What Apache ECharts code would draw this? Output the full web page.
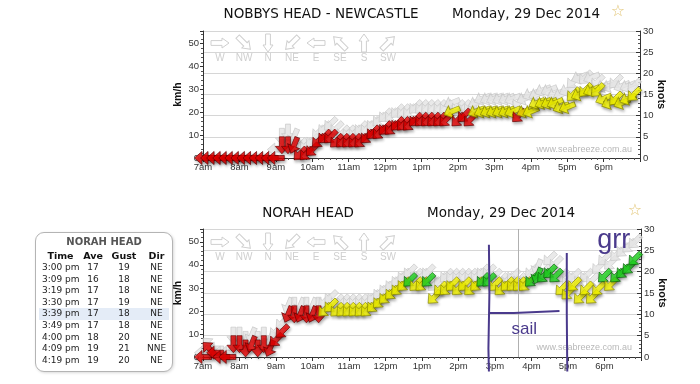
<!DOCTYPE html>
<html><head><meta charset="utf-8">
<script src="https://cdn.jsdelivr.net/npm/echarts@6/dist/echarts.min.js"></script>
<style>
html,body{margin:0;padding:0;background:#fff;}
#chart{position:absolute;left:0;top:0;width:700px;height:384px;}
#tip{position:absolute;left:35px;top:232px;width:138px;height:140px;border:1px solid #b4b4b4;border-radius:9px;background:#fff;box-shadow:1px 1px 3px rgba(0,0,0,0.15);font-family:"DejaVu Sans",sans-serif;font-size:9px;color:#222;box-sizing:border-box;}
#tip .t{font-weight:bold;color:#555;text-align:center;font-size:10px;line-height:12px;margin-top:3px;}
#tip table{border-collapse:collapse;position:absolute;left:3px;top:16px;width:130px;table-layout:fixed;}
#tip th{font-weight:bold;font-size:9.5px;padding:0;height:13px;line-height:13px;color:#111;}
#tip td{padding:0;height:11.6px;line-height:11.6px;text-align:center;}
#tip td.tm{text-align:left;padding-left:3px;}
#tip tr.hl td{background:#e4ecf7;}
</style></head>
<body><div id="chart"></div><div id="tip"></div>
<script>
// ---------------- data ----------------
const times = ["7:00","7:10","7:20","7:30","7:40","7:50","8:00","8:10","8:20","8:30","8:40","8:50",
"9:00","9:10","9:20","9:30","9:40","9:50","10:00","10:10","10:20","10:30","10:40","10:50",
"11:00","11:10","11:20","11:30","11:40","11:50","12:00","12:10","12:20","12:30","12:40","12:50",
"13:00","13:10","13:20","13:30","13:40","13:50","14:00","14:10","14:20","14:30","14:40","14:50",
"15:00","15:10","15:20","15:30","15:40","15:50","16:00","16:10","16:20","16:30","16:40","16:50",
"17:00","17:10","17:20","17:30","17:40","17:50","18:00","18:10","18:20","18:30","18:40","18:50"];

// NOBBYS HEAD - average / gust in knots, direction
const nobbysAve = [0,0,0,0,0,0, 0,0,0,0,0,0,
 0,3,3,3,1,1, 2,4,5,5,4,4, 4,4,4,5,6,6, 7,7,8,8,8,9,
 9,9,9,9,9,11, 9,10,9,11,11,11, 11,11,11,11,10,11, 11,13,13,13,13,12,
 12,15,15,16,16,16, 14,13,14,13,14,15];
const nobbysGust = [0,0,0,0,0,0, 0,0,0,0,0,0,
 2,5,6,5,3,3, 4,6,7,8,7,6, 6,6,7,7,8,9, 10,10,11,11,11,12,
 12,12,12,12,12,13, 12,12,12,13,14,14, 14,14,14,14,13,14, 15,15,16,16,15,15,
 16,18,19,19,19,18, 17,17,18,17,17,17];
const nobbysDir = ["E","E","E","E","E","E","E","E","E","E","E","E",
 "E","N","N","NNE","NE","NE", "NE","NE","NE","NE","NE","NE", "NE","NE","NE","NE","NE","NE",
 "NE","NE","NE","NE","NE","NE", "NE","NE","NE","NE","NE","ENE", "NE","NE","NE","ENE","ENE","ENE",
 "ENE","ENE","ENE","ENE","NE","ENE", "ENE","ENE","ENE","ENE","ENE","ENE",
 "ENE","NE","ENE","NE","ENE","NE", "ENE","ENE","NE","ENE","ENE","NE"];

// NORAH HEAD
const norahAve = [0,2,1,0,0,3, 3,2,3,2,3,2,
 4,6,10,10,10,10, 10,10,11,12,11,11, 11,11,11,11,12,13, 14,15,16,17,18,17,
 17,18,14,16,16,17, 16,17,16,17,18,18, 17,16,17,17,17,17, 18,19,19,20,19,16,
 15,17,14,16,14,16, 19,17,19,20,21,23];
const norahGust = [1,3,2,1,1,5, 5,4,5,4,5,4,
 6,8,12,12,12,12, 12,12,13,14,13,13, 13,13,13,13,14,15, 16,17,18,19,20,19,
 19,20,17,18,19,19, 19,19,19,19,20,20, 19,18,18,19,18,18, 20,21,20,23,22,19,
 18,19,18,19,18,21, 23,22,24,25,26,27];
const norahDir = ["E","SE","E","E","E","N", "N","N","NNE","N","N","NNE",
 "NE","NE","NNE","N","NNE","N", "NNE","N","NE","NE","NE","NE", "NE","NE","NE","NE","NE","NE",
 "NE","NE","NE","NE","NE","NE", "NE","NE","NE","NE","NE","NE", "NE","NE","NE","NE","NE","NE",
 "NE","NE","NE","NE","NE","NE", "NE","NNE","NE","NE","NE","NE",
 "NE","NE","NE","NE","NE","NE", "NE","NE","NE","NE","NE","NE"];

const compass = ["W","NW","N","NE","E","SE","S","SW"];

// tooltip table (NORAH HEAD)
const tipTime = ["3:00 pm","3:09 pm","3:19 pm","3:30 pm","3:39 pm","3:49 pm","4:00 pm","4:09 pm","4:19 pm"];
const tipAve  = [17,16,17,17,17,17,18,19,19];
const tipGust = [19,18,18,19,18,18,20,21,20];
const tipDir  = ["NE","NE","NE","NE","NE","NE","NE","NNE","NE"];
const tipHighlight = 4;
const cursorTime = "15:39";

// hand-drawn annotation (times / knots)
const sailStart = "14:50", sailEnd = "16:58", sailBarEnd = "16:46";

// ---------------- helpers ----------------
const parseT = s => { const p = s.split(':').map(Number); return p[0] + p[1] / 60; };
const DIRDEG = {N:0,NNE:22.5,NE:45,ENE:67.5,E:90,ESE:112.5,SE:135,SSE:157.5,S:180,SSW:202.5,SW:225,WSW:247.5,W:270,WNW:292.5,NW:315,NNW:337.5};
const bearing = d => (DIRDEG[d] + 180) % 360;
const ARROW = 'path://M6,0L12,7L8.3,7L8.3,16L3.7,16L3.7,7L0,7Z';
function colorFor(v) {
  if (v >= 18) return ['#22dd22', '#0a5f0a'];
  if (v >= 11) return ['#ffff00', '#878700'];
  return ['#ee0000', '#650000'];
}
function arrowData(vals, dirs, gust) {
  return vals.map((v, i) => {
    const it = { value: [parseT(times[i]), v], symbolRotate: -bearing(dirs[i]) };
    if (!gust) { const c = colorFor(v); it.itemStyle = { color: c[0], borderColor: c[1] }; }
    return it;
  });
}
const hourLabel = v => {
  if (v >= 19) return '';
  if (v < 12) return v + 'am';
  if (v === 12) return '12pm';
  return (v - 12) + 'pm';
};

const AXFONT = 'Liberation Sans';
function xAxisCfg(gi) {
  return {
    type: 'value', gridIndex: gi, min: 7, max: 19, interval: 1,
    axisLine: { show: true, lineStyle: { color: '#333', width: 1 } },
    axisTick: { show: true, length: 4, lineStyle: { color: '#333' } },
    minorTick: { show: true, splitNumber: 6, length: 2, lineStyle: { color: '#555' } },
    axisLabel: { formatter: hourLabel, fontSize: 9.5, fontFamily: AXFONT, color: '#333', margin: 4, showMaxLabel: false },
    splitLine: { show: false }
  };
}
function knotsAxis(gi) {
  return {
    type: 'value', gridIndex: gi, position: 'right', min: 0, max: 30, interval: 5,
    name: 'knots', nameLocation: 'middle', nameRotate: -90, nameGap: 16, nameMoveOverlap: false,
    nameTextStyle: { fontFamily: AXFONT, fontWeight: 'bold', fontSize: 11, color: '#111' },
    axisLine: { show: true, lineStyle: { color: '#333' } },
    axisTick: { show: true, length: 4, inside: true, lineStyle: { color: '#333' } },
    minorTick: { show: true, splitNumber: 5, length: 2, lineStyle: { color: '#555' } },
    axisLabel: { fontSize: 9.5, fontFamily: AXFONT, color: '#333', margin: 3 },
    splitLine: { show: true, lineStyle: { color: '#d6d6d6', width: 1 } }
  };
}
function kmhAxis(gi) {
  return {
    type: 'value', gridIndex: gi, position: 'left', min: 0, max: 30 * 1.852, interval: 10,
    name: 'km/h', nameLocation: 'middle', nameRotate: 90, nameGap: 19, nameMoveOverlap: false,
    nameTextStyle: { fontFamily: AXFONT, fontWeight: 'bold', fontSize: 10.5, color: '#111' },
    axisLine: { show: true, lineStyle: { color: '#333' } },
    axisTick: { show: true, length: 3, lineStyle: { color: '#333' } },
    minorTick: { show: true, splitNumber: 5, length: 2, lineStyle: { color: '#555' } },
    axisLabel: { fontSize: 9.5, fontFamily: AXFONT, color: '#333', margin: 4,
      formatter: v => (Math.abs(v % 10) < 1e-6 ? String(v) : '') },
    splitLine: { show: false }
  };
}
const SYM = [13, 17];
function gustSeries(xi, yi, vals, dirs) {
  return { type: 'scatter', xAxisIndex: xi, yAxisIndex: yi, symbol: ARROW, symbolSize: SYM,
    data: arrowData(vals, dirs, true), z: 2, silent: true, clip: false,
    itemStyle: { color: '#e3e3e3', borderColor: '#c6c6c6', borderWidth: 0.8 } };
}
function aveSeries(xi, yi, vals, dirs, extra) {
  return Object.assign({ type: 'scatter', xAxisIndex: xi, yAxisIndex: yi, symbol: ARROW, symbolSize: SYM,
    data: arrowData(vals, dirs, false), z: 3, silent: true, clip: false,
    itemStyle: { borderWidth: 0.8, shadowBlur: 3, shadowColor: 'rgba(0,0,0,0.35)', shadowOffsetX: 1, shadowOffsetY: 2 } }, extra || {});
}

const chart = echarts.init(document.getElementById('chart'), null, { renderer: 'canvas' });
chart.setOption({
  animation: false,
  backgroundColor: '#fff',
  grid: [
    { left: 203, top: 31, width: 437, height: 127 },
    { left: 203, top: 229, width: 438, height: 128 }
  ],
  xAxis: [xAxisCfg(0), xAxisCfg(1)],
  yAxis: [knotsAxis(0), kmhAxis(0), knotsAxis(1), kmhAxis(1)],
  series: [
    gustSeries(0, 0, nobbysGust, nobbysDir),
    aveSeries(0, 0, nobbysAve, nobbysDir),
    gustSeries(1, 2, norahGust, norahDir),
    aveSeries(1, 2, norahAve, norahDir, {
      markLine: { silent: true, symbol: ['none', 'none'], label: { show: false },
        lineStyle: { color: '#b0b0b0', type: 'solid', width: 1 },
        data: [{ xAxis: parseT(cursorTime) }] }
    })
  ]
});

// ---------------- decorations ----------------
const px = (xi, t) => chart.convertToPixel({ xAxisIndex: xi }, parseT(t));
const py = (yi, v) => chart.convertToPixel({ yAxisIndex: yi }, v);
function txt(x, y, text, font, fill, align) {
  return { type: 'text', x: x, y: y, z: 20, style: { text: text, font: font, fill: fill,
    align: align || 'left', verticalAlign: 'middle', textAlign: align || 'left', textVerticalAlign: 'middle' } };
}
const ARR_PTS = [[0,-9],[5,-2],[2.4,-2],[2.4,9],[-2.4,9],[-2.4,-2],[-5,-2]];
function compassLegend(yArrow) {
  const els = [];
  compass.forEach((d, i) => {
    const x = 220 + i * 24;
    els.push({ type: 'polygon', x: x, y: yArrow, rotation: -bearing(d) * Math.PI / 180, z: 5,
      shape: { points: ARR_PTS }, style: { fill: '#fff', stroke: '#cfcfcf', lineWidth: 1 } });
    els.push(txt(x, yArrow + 15, d, '10px "Liberation Sans"', '#cfcfcf', 'center'));
  });
  return els;
}
const TFONT = '"DejaVu Sans"';
const PURPLE = '#4a3a8c';
const els = [
  txt(321, 14, 'NOBBYS HEAD - NEWCASTLE', '13.5px ' + TFONT, '#111', 'center'),
  txt(452, 14, 'Monday, 29 Dec 2014', '13.5px ' + TFONT, '#111'),
  txt(618, 12, '\u2606', '16px ' + TFONT, '#e3c77a', 'center'),
  txt(308, 213, 'NORAH HEAD', '13.5px ' + TFONT, '#111', 'center'),
  txt(427, 213, 'Monday, 29 Dec 2014', '13.5px ' + TFONT, '#111'),
  txt(635, 211, '\u2606', '16px ' + TFONT, '#e3c77a', 'center'),
  txt(632, 150, 'www.seabreeze.com.au', '9px "Liberation Sans"', '#b8b8b8', 'right'),
  txt(632, 348, 'www.seabreeze.com.au', '9px "Liberation Sans"', '#b8b8b8', 'right')
].concat(compassLegend(43), compassLegend(242));

// hand-drawn annotation on NORAH HEAD
const xs = px(1, sailStart), xe = px(1, sailEnd), xb = px(1, sailBarEnd);
els.push({ type: 'polyline', z: 30, shape: { points: [[xs, py(2, 26.3)], [xs + 0.5, py(2, 15)], [xs - 0.5, py(2, 2)], [xs, py(2, -3.4)]] },
  style: { stroke: PURPLE, lineWidth: 2, fill: null } });
els.push({ type: 'polyline', z: 30, shape: { points: [[xe, py(2, 24.4)], [xe, py(2, 10)], [xe + 0.5, py(2, -3.4)]] },
  style: { stroke: PURPLE, lineWidth: 2, fill: null } });
els.push({ type: 'polyline', z: 30, shape: { points: [[xs, py(2, 10.3)], [xs + 25, py(2, 10.3)], [xb, py(2, 10.8)]] },
  style: { stroke: PURPLE, lineWidth: 2, fill: null } });
els.push(txt((xs + xb) / 2, py(2, 6.6), 'sail', '17px "Liberation Sans"', PURPLE, 'center'));
els.push(txt(px(1, '18:15'), py(2, 27.2), 'grr', '27px "Liberation Sans"', PURPLE, 'center'));

chart.setOption({ graphic: { elements: els } });

// ---------------- tooltip box ----------------
let html = '<div class="t">NORAH HEAD</div><table><colgroup><col style="width:43px"><col style="width:22px"><col style="width:40px"><col style="width:25px"></colgroup>';
html += '<tr><th>Time</th><th>Ave</th><th>Gust</th><th>Dir</th></tr>';
tipTime.forEach((t, i) => {
  html += '<tr' + (i === tipHighlight ? ' class="hl"' : '') + '><td class="tm">' + t + '</td><td>' + tipAve[i] +
    '</td><td>' + tipGust[i] + '</td><td>' + tipDir[i] + '</td></tr>';
});
html += '</table>';
document.getElementById('tip').innerHTML = html;
</script>
</body></html>
